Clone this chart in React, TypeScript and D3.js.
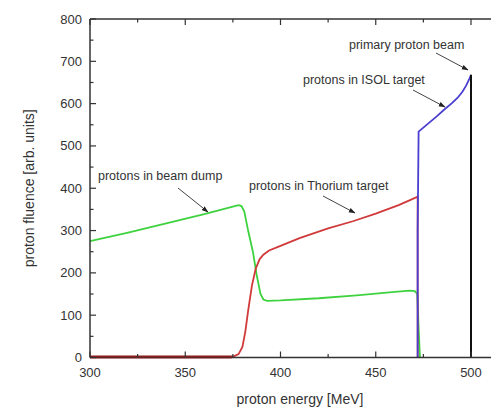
import React from "react";
import * as d3 from "d3";

const W = 491;
const H = 408;

const xTicks = [300, 350, 400, 450, 500];
const yTicks = [0, 100, 200, 300, 400, 500, 600, 700, 800];

const dumpE = [300, 320, 340, 360, 372, 376, 378, 379.5, 381, 383, 385.5, 387.5, 389.5, 391, 393, 400, 420, 440, 460, 468, 470.5, 471.8, 472.6, 473.2];
const dumpV = [275, 295, 317, 339, 353, 358, 360, 358, 345, 300, 250, 195, 150, 137, 134, 135, 140, 147, 155, 158, 157, 150, 60, 0];

const thoriumE = [300, 374, 376, 378, 380, 381.5, 383, 385, 387, 389, 391, 394, 400, 410, 425, 438, 450, 462, 468, 472, 472];
const thoriumV = [0, 0, 4, 8, 25, 60, 110, 170, 210, 232, 243, 253, 264, 282, 305, 322, 340, 360, 372, 380, 0];

const isolE = [472, 472, 472.5, 477, 482, 486, 490, 493, 495.5, 497.5, 499, 500];
const isolV = [0, 300, 534, 551, 570, 586, 601, 614, 628, 643, 657, 668];

const beamE = [500, 500];
const beamV = [0, 668];

const annotations = [
  { text: "protons in beam dump", x: 98, y: 180, ax1: 178, ay1: 188, ax2: 208, ay2: 212 },
  { text: "protons in Thorium target", x: 249, y: 190, ax1: 323, ay1: 196, ax2: 355, ay2: 213 },
  { text: "protons in ISOL target", x: 303, y: 84, ax1: 413, ay1: 90, ax2: 445, ay2: 107 },
  { text: "primary proton beam", x: 349, y: 49, ax1: 436, ay1: 53, ax2: 468, ay2: 70 },
];

export default function App() {
  const x = d3.scaleLinear().domain([300, 520]).range([90, 90 + 220 * 1.905]);
  const y = d3.scaleLinear().domain([0, 800]).range([357.5, 19]);
  const line = d3
    .line<[number, number]>()
    .x((d) => x(d[0]))
    .y((d) => y(d[1]));
  const zip = (a: number[], b: number[]) => a.map((v, i) => [v, b[i]] as [number, number]);

  const axisColor = "#333";
  const font = "Liberation Sans, Arial, sans-serif";
  const textColor = "#333";

  const xMinor = d3.range(300, 521, 25);
  const yMinor = d3.range(0, 801, 50);

  return (
    <div style={{ position: "absolute", left: 0, top: 0 }}>
      <svg width={W} height={H} style={{ display: "block", background: "#fff" }}>
        <defs>
          <marker id="arr" viewBox="0 0 10 10" refX="9" refY="5" markerWidth="7" markerHeight="7" orient="auto">
            <path d="M0,1.5 L10,5 L0,8.5 z" fill="#222" />
          </marker>
        </defs>
        {/* data lines */}
        <path d={line(zip(dumpE, dumpV)) || ""} fill="none" stroke="#3fd23f" strokeWidth={1.8} />
        <path d={line(zip(thoriumE, thoriumV)) || ""} fill="none" stroke="#d03a3a" strokeWidth={1.8} />
        <path d={line(zip(isolE, isolV)) || ""} fill="none" stroke="#4a3fd0" strokeWidth={1.8} />
        <path d={line(zip(beamE, beamV)) || ""} fill="none" stroke="#111" strokeWidth={2} />

        {/* axes frame */}
        <line x1={x(300)} x2={x(300)} y1={y(0)} y2={y(800)} stroke={axisColor} strokeWidth={1.5} />
        <line x1={x(300)} x2={W} y1={y(0)} y2={y(0)} stroke={axisColor} strokeWidth={1.5} />
        <line x1={x(300)} x2={W} y1={y(800)} y2={y(800)} stroke={axisColor} strokeWidth={1.5} />
        <line x1={x(300)} x2={x(375)} y1={y(0) - 1} y2={y(0) - 1} stroke="#8b1c1c" strokeWidth={2} />

        {/* y ticks */}
        {yMinor.map((v) => (
          <line key={"ym" + v} x1={x(300)} x2={x(300) + (v % 100 === 0 ? 6 : 3.5)} y1={y(v)} y2={y(v)} stroke={axisColor} strokeWidth={1.2} />
        ))}
        {/* x ticks bottom & top */}
        {xMinor.map((v) => (
          <g key={"xm" + v}>
            <line x1={x(v)} x2={x(v)} y1={y(0)} y2={y(0) - (v % 50 === 0 ? 6 : 3.5)} stroke={axisColor} strokeWidth={1.2} />
            <line x1={x(v)} x2={x(v)} y1={y(800)} y2={y(800) + (v % 50 === 0 ? 6 : 3.5)} stroke={axisColor} strokeWidth={1.2} />
          </g>
        ))}

        {/* tick labels */}
        {yTicks.map((v) => (
          <text key={"yl" + v} x={82} y={y(v)} dy="0.35em" textAnchor="end" fontFamily={font} fontSize={13} fill={textColor}>
            {v}
          </text>
        ))}
        {xTicks.map((v) => (
          <text key={"xl" + v} x={x(v)} y={372} dy="0.35em" textAnchor="middle" fontFamily={font} fontSize={13} fill={textColor}>
            {v}
          </text>
        ))}

        {/* axis titles */}
        <text x={300} y={404} textAnchor="middle" fontFamily={font} fontSize={14} fill={textColor}>
          proton energy [MeV]
        </text>
        <text transform={`translate(34,${y(400)}) rotate(-90)`} textAnchor="middle" fontFamily={font} fontSize={14} fill={textColor}>
          proton fluence [arb. units]
        </text>

        {/* annotations */}
        {annotations.map((a) => (
          <g key={a.text}>
            <text x={a.x} y={a.y} fontFamily={font} fontSize={12.5} fill={textColor}>
              {a.text}
            </text>
            <line x1={a.ax1} y1={a.ay1} x2={a.ax2} y2={a.ay2} stroke="#444" strokeWidth={1} markerEnd="url(#arr)" />
          </g>
        ))}
      </svg>
    </div>
  );
}
